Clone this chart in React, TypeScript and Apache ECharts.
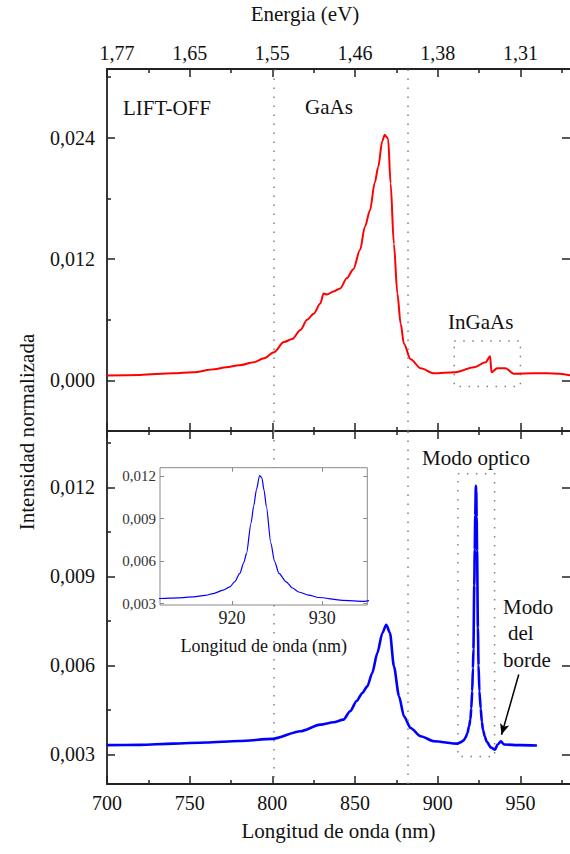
import React, { useEffect, useRef } from "react";
import * as echarts from "echarts";

const FONT = "Liberation Serif";

// ---- data ----
const wavelengthTop = [700, 720, 740, 752, 765, 772, 780, 789, 795, 801, 807, 812, 817, 821, 825, 829, 831, 833, 837, 841, 845, 849, 853, 856, 859, 862, 864, 866.5, 868, 869, 870, 871.5, 873.5, 875.6, 877.6, 879.6, 883.6, 889.7, 897.8, 910, 922, 929, 931.7, 932.5, 936, 941, 946, 958, 966, 974, 980];
const intensityTop = [0.0005, 0.00055, 0.0007, 0.0008, 0.0011, 0.0013, 0.0015, 0.0018, 0.0022, 0.0028, 0.0038, 0.0041, 0.005, 0.006, 0.0066, 0.0076, 0.0086, 0.0085, 0.0088, 0.0091, 0.0101, 0.011, 0.0129, 0.0152, 0.0168, 0.0196, 0.0211, 0.0237, 0.0243, 0.0241, 0.0239, 0.0195, 0.0135, 0.0086, 0.0056, 0.0036, 0.0021, 0.0012, 0.0007, 0.0008, 0.0013, 0.0018, 0.0024, 0.0008, 0.0012, 0.0012, 0.00066, 0.0007, 0.0007, 0.00066, 0.0005];

const wavelengthBottom = [700, 720, 740, 760, 780, 800, 817, 829, 837, 843, 847, 851, 854.4, 857.4, 860.4, 863.5, 866.5, 868.9, 871.1, 873.5, 876.6, 879.6, 883.6, 889.7, 897.8, 912, 914, 915.7, 917, 917.9, 919, 919.75, 920.3, 920.85, 921.3, 921.6, 922.1, 922.4, 922.7, 923.05, 923.3, 923.55, 923.8, 924.3, 924.7, 925.2, 926, 926.7, 927.4, 928.5, 929.6, 932.2, 934.7, 936.2, 938.2, 940.2, 950, 960];
const intensityBottom = [0.00331, 0.00332, 0.00336, 0.0034, 0.00345, 0.00352, 0.00378, 0.004, 0.00408, 0.00417, 0.00445, 0.0048, 0.00507, 0.00529, 0.00574, 0.00642, 0.00709, 0.00737, 0.0071, 0.00597, 0.00496, 0.00428, 0.00389, 0.00361, 0.00344, 0.00336, 0.00341, 0.00347, 0.00358, 0.00371, 0.00395, 0.00418, 0.00455, 0.00513, 0.0059, 0.00655, 0.00869, 0.0099, 0.01105, 0.01205, 0.01189, 0.011, 0.00987, 0.00727, 0.006, 0.00513, 0.00454, 0.0041, 0.00382, 0.0036, 0.00343, 0.00323, 0.00316, 0.00333, 0.00344, 0.00333, 0.00331, 0.0033];

const xMajorTicks = [700, 750, 800, 850, 900, 950];
const xMinorTicks = [725, 775, 825, 875, 925, 975];
const energyLabels = ["1,77", "1,65", "1,55", "1,46", "1,38", "1,31"];
const topYMajor = [0, 0.012, 0.024];
const topYMinor = [0.006, 0.018, 0.03];
const bottomYMajor = [0.003, 0.006, 0.009, 0.012];
const bottomYMinor = [0.0045, 0.0075, 0.0105, 0.0135];
const insetXTicks = [920, 930];
const insetYTicks = [0.003, 0.006, 0.009, 0.012];

const xRange = [700, 980];
const topYRange = [-0.005, 0.0308];
const bottomYRange = [0.002, 0.0139];
const insetXRange = [912, 935];
const insetYRange = [0.0029, 0.0126];
const dividerLines = [801, 882];
const ingaasBox = { x: [910, 950], y: [-0.0006, 0.0039] };
const opticalBox = { x: [912.2, 934.4], y: [0.00293, 0.01246] };
const edgeArrow = { from: [949, 0.00569], to: [938.6, 0.00366] };

const AXIS_COLOR = "#222";
const DOT = { type: [1.5, 7.5], color: "#808080", width: 1.5 };

const fmtComma = (v: number) => v.toFixed(3).replace(".", ",");

function xAx(grid: number, pos: string, ticks: number[], len: number, extra: any = {}) {
  return {
    type: "value",
    gridIndex: grid,
    position: pos,
    min: grid === 2 ? insetXRange[0] : xRange[0],
    max: grid === 2 ? insetXRange[1] : xRange[1],
    splitLine: { show: false },
    axisLine: { show: true, onZero: false, lineStyle: { color: AXIS_COLOR, width: 1.8 } },
    axisTick: { show: true, inside: true, length: len, customValues: ticks, lineStyle: { color: AXIS_COLOR, width: 1.5 } },
    axisLabel: { show: false },
    ...extra,
  };
}

function yAx(grid: number, pos: string, range: number[], ticks: number[], len: number, extra: any = {}) {
  return {
    type: "value",
    gridIndex: grid,
    position: pos,
    min: range[0],
    max: range[1],
    splitLine: { show: false },
    axisLine: { show: true, onZero: false, lineStyle: { color: AXIS_COLOR, width: 1.8 } },
    axisTick: { show: true, inside: true, length: len, customValues: ticks, lineStyle: { color: AXIS_COLOR, width: 1.5 } },
    axisLabel: { show: false },
    ...extra,
  };
}

function txt(text: string, x: number, y: number, size: number, align: string) {
  return {
    type: "text",
    x,
    y,
    style: { text, fontFamily: FONT, fontSize: size, fill: "#111", align, verticalAlign: "middle" },
  };
}

export default function App() {
  const ref = useRef<HTMLDivElement>(null);
  useEffect(() => {
    if (!ref.current) return;
    const chart = echarts.init(ref.current, null, { renderer: "svg" });
    const topData = wavelengthTop.map((x, i) => [x, intensityTop[i]]);
    const bottomData = wavelengthBottom.map((x, i) => [x, intensityBottom[i]]);
    const labelStyle = { color: "#111", fontFamily: FONT, fontSize: 20 };
    const insetAxisColor = "#8a8a8a";
    const span = bottomYRange[1] - bottomYRange[0];
    const insetTopVal = bottomYRange[1] - ((467.7 - 431) / 353) * span;
    const insetBottomVal = bottomYRange[1] - ((605 - 431) / 353) * span;

    const option: any = {
      animation: false,
      backgroundColor: "#fff",
      textStyle: { fontFamily: FONT },
      grid: [
        { left: 107, right: 0, top: 69, height: 362 },
        { left: 107, right: 0, top: 431, height: 353 },
        {
          left: 160, top: 467.7, width: 207.3, height: 137.3, show: true,
          backgroundColor: "#fff", borderColor: insetAxisColor, borderWidth: 1,
        },
      ],
      xAxis: [
        xAx(0, "top", xMajorTicks, 8, {
          axisLabel: {
            show: true, ...labelStyle, margin: 6, customValues: xMajorTicks,
            formatter: (v: number) => {
              const i = xMajorTicks.indexOf(Math.round(v));
              if (i < 0) return "";
              return i === 0 ? `{first|${energyLabels[i]}}` : energyLabels[i];
            },
            rich: { first: { fontFamily: FONT, fontSize: 20, color: "#111", padding: [0, 0, 0, 20] } },
          },
        }),
        xAx(0, "top", xMinorTicks, 4, { axisLine: { show: false, onZero: false } }),
        xAx(0, "bottom", xMajorTicks, 8),
        xAx(0, "bottom", xMinorTicks, 4, { axisLine: { show: false, onZero: false } }),
        xAx(1, "top", xMajorTicks, 8),
        xAx(1, "top", xMinorTicks, 4, { axisLine: { show: false, onZero: false } }),
        xAx(1, "bottom", xMajorTicks, 8, {
          name: "Longitud de onda (nm)",
          nameLocation: "middle",
          nameGap: 36,
          nameTextStyle: { color: "#111", fontFamily: FONT, fontSize: 21 },
          axisLabel: { show: true, ...labelStyle, margin: 9, customValues: xMajorTicks, formatter: (v: number) => String(v) },
        }),
        xAx(1, "bottom", xMinorTicks, 4, { axisLine: { show: false, onZero: false } }),
        xAx(2, "bottom", insetXTicks, 4, {
          axisLine: { show: false, onZero: false },
          axisTick: { show: true, inside: true, length: 4, customValues: insetXTicks, lineStyle: { color: insetAxisColor, width: 1 } },
          name: "Longitud de onda (nm)",
          nameLocation: "middle",
          nameGap: 32,
          nameTextStyle: { color: "#111", fontFamily: FONT, fontSize: 18 },
          axisLabel: { show: true, color: "#222", fontFamily: FONT, fontSize: 18, margin: 4, customValues: insetXTicks, formatter: (v: number) => String(v) },
        }),
        xAx(2, "top", insetXTicks, 4, {
          axisLine: { show: false, onZero: false },
          axisTick: { show: true, inside: true, length: 4, customValues: insetXTicks, lineStyle: { color: insetAxisColor, width: 1 } },
        }),
      ],
      yAxis: [
        yAx(0, "left", topYRange, topYMajor, 8, {
          axisLabel: { show: true, ...labelStyle, margin: 12, customValues: topYMajor, formatter: fmtComma },
        }),
        yAx(0, "left", topYRange, topYMinor, 4, { axisLine: { show: false, onZero: false } }),
        yAx(0, "right", topYRange, topYMajor, 8, { axisLine: { show: false, onZero: false } }),
        yAx(1, "left", bottomYRange, bottomYMajor, 8, {
          axisLabel: { show: true, ...labelStyle, margin: 12, customValues: bottomYMajor, formatter: fmtComma },
        }),
        yAx(1, "left", bottomYRange, bottomYMinor, 4, { axisLine: { show: false, onZero: false } }),
        yAx(1, "right", bottomYRange, bottomYMajor, 8, { axisLine: { show: false, onZero: false } }),
        yAx(2, "left", insetYRange, insetYTicks, 4, {
          axisLine: { show: false, onZero: false },
          axisTick: { show: true, inside: true, length: 4, customValues: insetYTicks, lineStyle: { color: insetAxisColor, width: 1 } },
          axisLabel: { show: true, color: "#333", fontFamily: FONT, fontSize: 15, margin: 4, customValues: insetYTicks, formatter: fmtComma },
        }),
        yAx(2, "right", insetYRange, insetYTicks, 4, {
          axisLine: { show: false, onZero: false },
          axisTick: { show: true, inside: true, length: 4, customValues: insetYTicks, lineStyle: { color: insetAxisColor, width: 1 } },
        }),
      ],
      series: [
        {
          type: "line",
          xAxisIndex: 2,
          yAxisIndex: 0,
          data: topData,
          showSymbol: false,
          smooth: 0.3,
          smoothMonotone: "x",
          lineStyle: { color: "#ff0000", width: 2 },
          markLine: {
            silent: true, symbol: "none", label: { show: false },
            lineStyle: DOT,
            data: dividerLines.map((x) => ({ xAxis: x })),
          },
          markArea: {
            silent: true,
            itemStyle: { color: "rgba(0,0,0,0)", borderColor: "#808080", borderWidth: 1.5, borderType: [1.5, 7.5] },
            data: [[{ coord: [ingaasBox.x[0], ingaasBox.y[1]] }, { coord: [ingaasBox.x[1], ingaasBox.y[0]] }]],
          },
        },
        {
          type: "line",
          xAxisIndex: 6,
          yAxisIndex: 3,
          data: bottomData,
          showSymbol: false,
          smooth: 0.25,
          smoothMonotone: "x",
          lineStyle: { color: "#0000ff", width: 2.6 },
          markLine: {
            silent: true, symbol: "none", label: { show: false },
            lineStyle: DOT,
            data: [
              [{ coord: [dividerLines[0], bottomYRange[1]] }, { coord: [dividerLines[0], insetTopVal] }],
              [{ coord: [dividerLines[0], insetBottomVal] }, { coord: [dividerLines[0], bottomYRange[0]] }],
              { xAxis: dividerLines[1] },
            ],
          },
          markArea: {
            silent: true,
            itemStyle: { color: "rgba(0,0,0,0)", borderColor: "#808080", borderWidth: 1.5, borderType: [1.5, 7.5] },
            data: [[{ coord: [opticalBox.x[0], opticalBox.y[1]] }, { coord: [opticalBox.x[1], opticalBox.y[0]] }]],
          },
        },
        {
          type: "line",
          xAxisIndex: 6,
          yAxisIndex: 3,
          data: [],
          markLine: {
            silent: true,
            symbol: ["none", "arrow"],
            symbolSize: [7, 11],
            label: { show: false },
            lineStyle: { color: "#000", width: 1.5, type: "solid" },
            itemStyle: { color: "#000" },
            data: [[{ coord: edgeArrow.from }, { coord: edgeArrow.to }]],
          },
        },
        {
          type: "line",
          xAxisIndex: 8,
          yAxisIndex: 6,
          data: bottomData,
          showSymbol: false,
          smooth: 0.25,
          smoothMonotone: "x",
          clip: true,
          lineStyle: { color: "#0000ff", width: 1.2 },
        },
      ],
      graphic: [
        txt("Energia (eV)", 305, 14, 21, "center"),
        txt("LIFT-OFF", 123, 108, 21, "left"),
        txt("GaAs", 305, 107, 21, "left"),
        txt("InGaAs", 448, 322, 21, "left"),
        txt("Modo optico", 422, 458, 21, "left"),
        txt("Modo", 503, 607, 21, "left"),
        txt("del", 508, 633, 21, "left"),
        txt("borde", 503, 660, 21, "left"),
        {
          type: "text",
          x: 27,
          y: 432,
          rotation: Math.PI / 2,
          style: {
            text: "Intensidad normalizada",
            fontFamily: FONT,
            fontSize: 21,
            fill: "#111",
            align: "center",
            verticalAlign: "middle",
          },
        },
      ],
    };

    chart.setOption(option);
    return () => chart.dispose();
  }, []);

  return (
    <div
      ref={ref}
      style={{ position: "fixed", left: 0, top: 0, width: 570, height: 854, background: "#fff" }}
    />
  );
}
